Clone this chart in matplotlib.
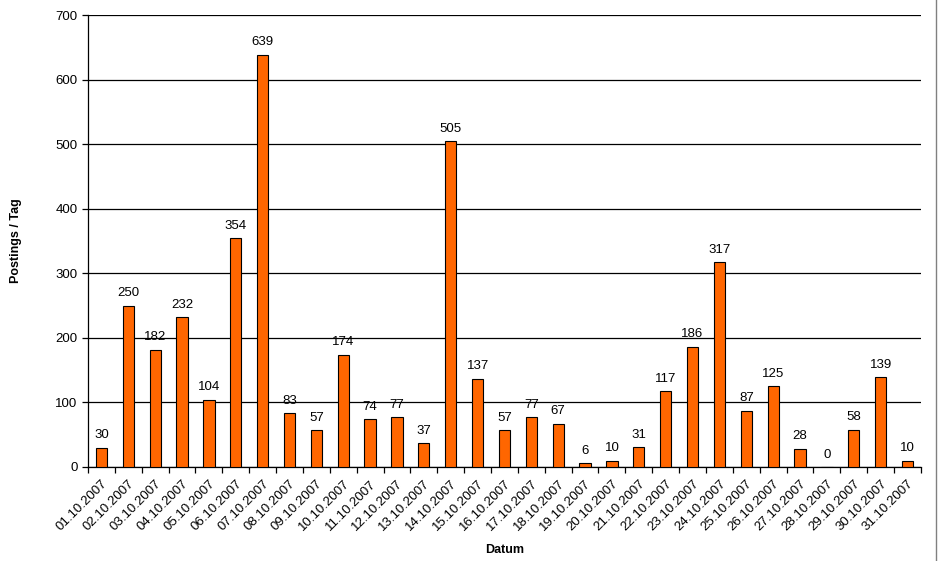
import numpy as np
from matplotlib import pyplot as plt
from matplotlib.lines import Line2D

plt.rcParams['font.family'] = ['Liberation Sans', 'DejaVu Sans']

dates = ['%02d.10.2007' % d for d in range(1, 32)]
postings = [30, 250, 182, 232, 104, 354, 639, 83, 57, 174, 74, 77, 37, 505, 137,
            57, 77, 67, 6, 10, 31, 117, 186, 317, 87, 125, 28, 0, 58, 139, 10]


def plot_results():
    fig = plt.figure(figsize=(9.38, 5.61), dpi=100)
    ax = fig.add_axes([0.0938, 0.1676, 0.888, 0.8054])
    x = np.arange(len(postings))
    ax.bar(x, postings, width=0.42, color='#FF6600', edgecolor='black', linewidth=0.8, zorder=3)
    for xi, v in zip(x, postings):
        ax.text(xi, v + 10, str(v), ha='center', va='bottom', fontsize=9.5)

    ax.set_xlim(-0.5, len(postings) - 0.5)
    ax.set_ylim(0, 700)
    ax.set_yticks(range(0, 701, 100))
    ax.yaxis.grid(True, color='black', linewidth=0.9, zorder=0)
    ax.set_axisbelow(True)

    ax.set_xticks(np.arange(len(postings) + 1) - 0.5, minor=True)
    ax.set_xticks(x)
    ax.set_xticklabels(dates, rotation=45, ha='right', rotation_mode='anchor', fontsize=9.5)
    ax.tick_params(axis='x', which='major', length=0, pad=8)
    ax.tick_params(axis='x', which='minor', length=4, width=0.9, direction='out')
    ax.tick_params(axis='y', length=4, width=0.9, direction='out', labelsize=9.5)

    for side in ['top', 'right']:
        ax.spines[side].set_visible(False)
    ax.spines['left'].set_linewidth(0.9)
    ax.spines['bottom'].set_linewidth(0.9)

    ax.set_xlabel('Datum', fontsize=9, fontweight='bold')
    ax.xaxis.set_label_coords(0.5, -0.17)
    ax.set_ylabel('Postings / Tag', fontsize=9, fontweight='bold')
    ax.yaxis.set_label_coords(-0.079, 0.5)

    fig.add_artist(Line2D([0.998, 0.998], [0, 1], transform=fig.transFigure, color='#808080', linewidth=1))
    fig.savefig('out.png')


if __name__ == '__main__':
    plot_results()
